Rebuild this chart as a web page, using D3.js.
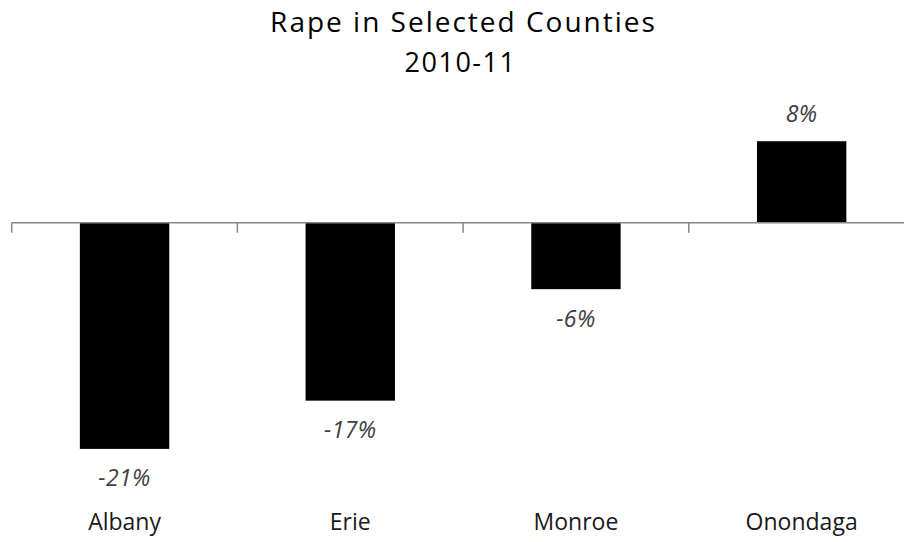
<!DOCTYPE html>
<html><head><meta charset="utf-8">
<script src="https://cdn.jsdelivr.net/npm/d3@7"></script>
<style>body{margin:0;background:#fff}svg{display:block}</style>
</head><body>
<svg id="c" width="904" height="542"></svg>
<script>
const categories = ["Albany", "Erie", "Monroe", "Onondaga"];
const values = [-21.1, -16.6, -6.2, 7.6];
const labels = ["-21%", "-17%", "-6%", "8%"];
const title = "Rape in Selected Counties";
const subtitle = "2010-11";

const svg = d3.select("#c");
const font = "'Open Sans', sans-serif";

const x = d3.scaleBand().domain(categories).range([11.7, 914.5]).paddingInner(0.604).paddingOuter(0.302);
const y = d3.scaleLinear().domain([-25, 10]).range([490.7, 115.5]);

svg.selectAll("rect.bar").data(values).join("rect")
  .attr("x", (d, i) => x(categories[i]))
  .attr("width", x.bandwidth())
  .attr("y", d => y(Math.max(0, d)))
  .attr("height", d => Math.abs(y(d) - y(0)))
  .attr("fill", "#000");

const axis = d3.axisBottom(x).tickSize(0).tickFormat("");
const g = svg.append("g").attr("transform", `translate(0,${y(0)})`).call(axis);
g.select(".domain").remove();
g.append("line").attr("x1", 11.7).attr("x2", 914.5).attr("stroke", "#868686").attr("stroke-width", 1.5);
const step = x.step();
const tickPos = d3.range(categories.length + 1).map(i => 11.7 + i * step);
g.selectAll("line.tk").data(tickPos).join("line").attr("class", "tk")
  .attr("x1", d => d).attr("x2", d => d).attr("y1", 0).attr("y2", 10)
  .attr("stroke", "#868686").attr("stroke-width", 1.5);

svg.selectAll("text.dl").data(values).join("text")
  .attr("x", (d, i) => x(categories[i]) + x.bandwidth() / 2)
  .attr("y", d => d < 0 ? y(d) + 37.6 : y(d) - 19.6)
  .attr("text-anchor", "middle")
  .attr("font-family", font).attr("font-style", "italic")
  .attr("font-size", 23).attr("letter-spacing", 0.4).attr("fill", "#404040")
  .text((d, i) => labels[i]);

svg.selectAll("text.cat").data(categories).join("text")
  .attr("x", d => x(d) + x.bandwidth() / 2)
  .attr("y", 530)
  .attr("text-anchor", "middle")
  .attr("font-family", font).attr("font-size", 23).attr("letter-spacing", 0).attr("fill", "#1a1a1a")
  .text(d => d);

svg.append("text").attr("x", 463.5).attr("y", 32.3).attr("text-anchor", "middle")
  .attr("font-family", font).attr("font-size", 28).attr("letter-spacing", 2).attr("fill", "#000").text(title);
svg.append("text").attr("x", 460.5).attr("y", 71.7).attr("text-anchor", "middle")
  .attr("font-family", font).attr("font-size", 27).attr("letter-spacing", 1.5).attr("fill", "#000").text(subtitle);
</script>
</body></html>
